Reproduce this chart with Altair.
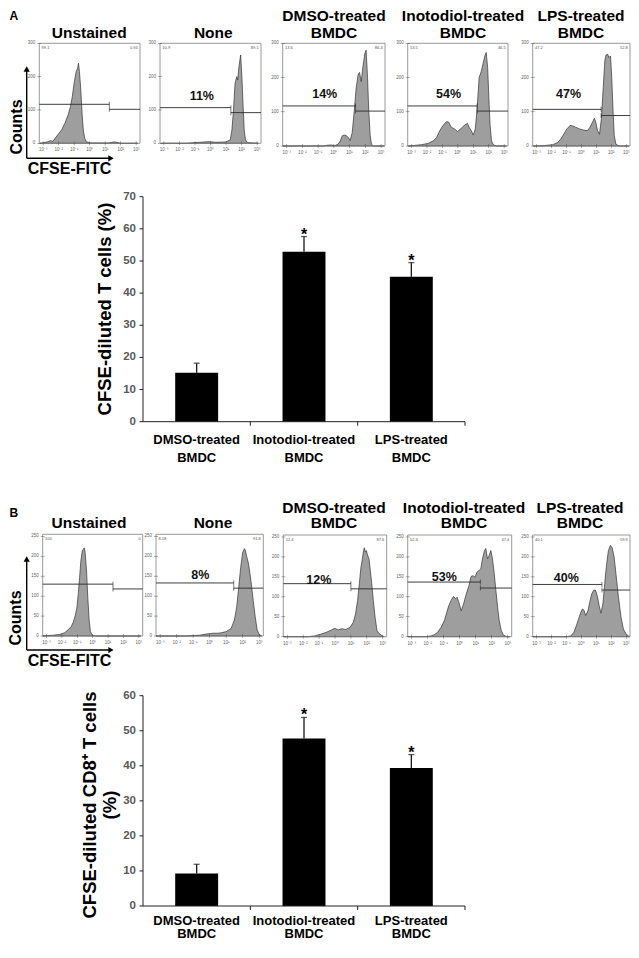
import altair as alt
import pandas as pd

# ---------------- data ----------------
CATS = ["DMSO-treated", "Inotodiol-treated", "LPS-treated"]
CAT_LINE2 = ["BMDC", "BMDC", "BMDC"]
A_MEAN = [15.2, 52.9, 45.1]
A_UPPER = [18.2, 57.6, 49.5]
B_MEAN = [9.3, 47.8, 39.4]
B_UPPER = [11.9, 53.8, 43.2]
A_YTICKS = [0, 10, 20, 30, 40, 50, 60, 70]
B_YTICKS = [0, 10, 20, 30, 40, 50, 60]

PANEL_TITLES = [["", "Unstained"], ["", "None"], ["DMSO-treated", "BMDC"],
                ["Inotodiol-treated", "BMDC"], ["LPS-treated", "BMDC"]]
DECADES = [-3, -2, -1, 0, 1, 2, 3]
DECADE_LABELS = ["10⁻³", "10⁻²", "10⁻¹", "10⁰", "10¹", "10²", "10³"]
HA_YTICKS = [0, 100, 200, 300]
HB_YTICKS = [0, 50, 100, 150, 200, 250]

# histogram outlines: x in log10(CFSE-FITC), c = counts
A1_X = [-3.21, -2.96, -2.75, -2.54, -2.37, -2.23, -2.02, -1.81, -1.60, -1.39, -1.24, -1.12, -0.99, -0.87,
        -0.78, -0.72, -0.66, -0.57, -0.49, -0.41, -0.32, -0.20, 0.08, 1.23, 1.54, 1.75, 1.96, 3.1]
A1_C = [0, 2, 4, 8, 6, 15, 28, 40, 60, 85, 110, 140, 185, 215, 225, 240, 215, 160, 90, 40, 15, 4, 1, 1, 4, 3, 0, 0]
A2_X = [-3.17, -1.54, -0.71, -0.08, 0.33, 0.96, 1.27, 1.38, 1.48, 1.58, 1.69, 1.75, 1.83, 1.94, 2.02,
        2.10, 2.17, 2.25, 2.38, 3.08]
A2_C = [0, 0, 3, 5, 3, 4, 10, 40, 100, 180, 200, 190, 230, 265, 200, 110, 40, 10, 2, 0]
A3_X = [-3.25, -0.68, -0.47, -0.16, 0.05, 0.26, 0.41, 0.54, 0.66, 0.79, 0.92, 1.04, 1.17, 1.29, 1.42,
        1.55, 1.63, 1.74, 1.84, 1.97, 2.05, 2.14, 2.22, 2.31, 2.39, 2.52, 3.21]
A3_C = [0, 0, 2, 3, 1, 5, 15, 30, 32, 30, 25, 16, 40, 100, 170, 210, 215, 188, 230, 270, 280, 200, 100, 30, 5, 0, 0]
A4_X = [-3.21, -2.75, -2.33, -1.91, -1.59, -1.38, -1.17, -0.96, -0.75, -0.60, -0.43, -0.22, -0.01, 0.16,
        0.31, 0.45, 0.62, 0.73, 0.87, 1.0, 1.13, 1.25, 1.38, 1.51, 1.63, 1.76, 1.84, 1.93, 2.01, 2.09,
        2.18, 2.31, 2.52, 3.15]
A4_C = [0, 2, 4, 8, 15, 25, 45, 60, 71, 70, 55, 50, 42, 50, 55, 62, 66, 55, 45, 32, 50, 110, 200, 217,
        240, 265, 273, 230, 140, 60, 15, 3, 0, 0]
A5_X = [-3.21, -2.54, -1.91, -1.59, -1.38, -1.17, -0.96, -0.75, -0.60, -0.39, -0.12, 0.2, 0.41, 0.58,
        0.75, 0.87, 0.96, 1.08, 1.21, 1.34, 1.46, 1.57, 1.65, 1.76, 1.84, 1.95, 2.03, 2.12, 2.20, 2.31,
        2.52, 3.2]
A5_C = [0, 1, 4, 10, 20, 35, 50, 60, 59, 55, 50, 46, 45, 55, 70, 81, 70, 45, 34, 80, 170, 250, 266, 268,
        258, 263, 200, 100, 30, 5, 0, 0]
B1_X = [-3.25, -2.57, -2.15, -1.83, -1.62, -1.40, -1.26, -1.13, -1.02, -0.94, -0.85, -0.77, -0.68, -0.62,
        -0.55, -0.49, -0.40, -0.32, -0.23, -0.15, -0.02, 0.19, 3.13]
B1_C = [0, 2, 4, 8, 15, 23, 35, 52, 73, 106, 147, 188, 213, 217, 221, 209, 163, 97, 40, 11, 2, 0, 0]
B2_X = [-3.25, -1.41, -0.61, -0.21, 0.20, 0.50, 0.70, 1.0, 1.30, 1.50, 1.64, 1.76, 1.88, 2.0, 2.10, 2.16,
        2.24, 2.36, 2.50, 2.64, 2.76, 2.88, 3.0, 3.16]
B2_C = [0, 0, 2, 5, 7, 7, 8, 11, 19, 40, 73, 122, 172, 209, 219, 215, 200, 180, 139, 89, 48, 15, 4, 0]
B3_X = [-3.25, -1.69, -1.27, -0.85, -0.54, -0.22, -0.01, 0.2, 0.45, 0.66, 0.94, 1.15, 1.29, 1.42, 1.53,
        1.63, 1.72, 1.78, 1.84, 1.91, 1.97, 2.05, 2.14, 2.22, 2.31, 2.41, 2.52, 2.64, 2.77, 2.94, 3.1]
B3_C = [0, 0, 2, 7, 11, 17, 21, 17, 20, 18, 23, 36, 57, 91, 133, 174, 195, 212, 223, 212, 216, 204, 195,
        166, 133, 91, 49, 15, 8, 3, 0]
B4_X = [-3.25, -2.12, -1.8, -1.59, -1.38, -1.17, -0.96, -0.81, -0.68, -0.54, -0.39, -0.26, -0.16, -0.05,
        0.09, 0.24, 0.41, 0.58, 0.71, 0.83, 0.96, 1.08, 1.21, 1.32, 1.42, 1.55, 1.63, 1.74, 1.84, 1.95,
        2.05, 2.16, 2.26, 2.37, 2.47, 2.6, 2.73, 2.94, 3.15]
B4_C = [0, 0, 2, 5, 11, 23, 40, 61, 78, 91, 101, 95, 99, 86, 65, 82, 107, 128, 151, 153, 149, 162, 166,
        170, 195, 216, 221, 195, 204, 216, 195, 158, 116, 74, 40, 15, 4, 0, 0]
B5_X = [-3.25, -1.02, -0.71, -0.5, -0.33, -0.19, -0.04, 0.08, 0.19, 0.29, 0.44, 0.56, 0.69, 0.81, 0.94,
        1.06, 1.19, 1.31, 1.44, 1.56, 1.69, 1.81, 1.94, 2.06, 2.19, 2.31, 2.48, 2.65, 2.81, 2.98, 3.15, 3.25]
B5_C = [0, 0, 2, 11, 28, 44, 61, 70, 65, 53, 65, 86, 107, 116, 117, 103, 78, 59, 82, 133, 183, 216, 229,
        223, 200, 158, 99, 49, 19, 7, 2, 0]

A_HX = [A1_X, A2_X, A3_X, A4_X, A5_X]
A_HC = [A1_C, A2_C, A3_C, A4_C, A5_C]
B_HX = [B1_X, B2_X, B3_X, B4_X, B5_X]
B_HC = [B1_C, B2_C, B3_C, B4_C, B5_C]

# gates: split point, left-gate level, right-gate level
A_SPLIT = [1.27, 1.31, 1.38, 1.25, 1.32]
A_GL = [117, 107, 117, 117, 107]
A_GR = [102, 92, 102, 102, 89]
B_SPLIT = [1.32, 1.46, 1.0, 1.29, 1.375]
B_GL = [130, 133, 133, 137, 131]
B_GR = [118, 120, 120, 122, 117]
A_PCT = ["", "11%", "14%", "54%", "47%"]
A_PCT_X = [0, -0.56, -0.58, -0.6, -0.85]
A_PCT_Y = [0, 143, 152, 152, 152]
B_PCT = ["", "8%", "12%", "53%", "40%"]
B_PCT_X = [0, -0.57, -1.02, -0.96, -1.0]
B_PCT_Y = [0, 152, 143, 149, 146]
A_CORNERS = [["99.1", "0.94"], ["10.9", "89.1"], ["13.6", "86.4"], ["53.5", "46.5"], ["47.2", "52.8"]]
B_CORNERS = [["100", "0"], ["8.18", "91.8"], ["12.4", "87.6"], ["52.6", "47.4"], ["40.1", "59.9"]]

# ---------------- layout (page pixels) ----------------
M = 8


def P(v):
    return v - M


FONT = "Liberation Sans, Arial, Helvetica, sans-serif"
XDOM = [-3.25, 3.25]
A_BOXES = [(39.3, 140, 43.3, 143.3), (160, 261, 43.3, 143.3), (282.7, 385, 43.3, 146),
           (407.7, 508, 43.3, 146), (532.7, 630, 43.3, 146)]
B_BOXES = [(42.7, 142.7, 534.3, 636), (156, 263.3, 534.3, 636), (283.3, 386.7, 535, 636.7),
           (407.7, 511.7, 535, 636.7), (532.7, 630, 535, 636.7)]
A_TITLE_X = [89.2, 213.3, 334, 463, 581]
B_TITLE_X = [89, 213, 334, 464, 580]

layers = []


def one(**kw):
    return pd.DataFrame([kw])


def hist(box, ymax, yticks, xs, cs, split, gl, gr, pct, pctx, pcty, corners):
    L, R, T, B = box
    sx = alt.Scale(domain=XDOM, range=[P(L), P(R)], nice=False, zero=False)
    sy = alt.Scale(domain=[0, ymax], range=[P(B), P(T)], nice=False, zero=False)

    def X(f):
        return alt.X(f, type="quantitative", scale=sx, axis=None)

    def Y(f):
        return alt.Y(f, type="quantitative", scale=sy, axis=None)

    out = []
    out.append(alt.Chart(pd.DataFrame({"x": xs, "c": cs})).mark_area(
        fill="#9e9e9e", stroke="#333333", strokeWidth=0.7).encode(x=X("x"), y=Y("c")))
    out.append(alt.Chart(one(x0=XDOM[0], x1=XDOM[1], y0=0, y1=ymax)).mark_rect(
        fillOpacity=0, stroke="#808080", strokeWidth=0.8).encode(x=X("x0"), x2="x1", y=Y("y0"), y2="y1"))
    xt = pd.DataFrame({"x": DECADES, "y": [0] * len(DECADES), "lab": DECADE_LABELS})
    out.append(alt.Chart(xt).mark_tick(orient="vertical", size=4, thickness=0.6, color="#444").encode(
        x=X("x"), y=Y("y")))
    out.append(alt.Chart(xt).mark_text(fontSize=4.5, dy=4, baseline="top", color="#666", font=FONT).encode(
        x=X("x"), y=Y("y"), text="lab:N"))
    yt = pd.DataFrame({"x": [XDOM[0]] * len(yticks), "y": yticks, "lab": [str(v) for v in yticks]})
    out.append(alt.Chart(yt).mark_tick(orient="horizontal", size=4, thickness=0.6, color="#444").encode(
        x=X("x"), y=Y("y")))
    out.append(alt.Chart(yt).mark_text(fontSize=4.5, dx=-4, align="right", baseline="middle", color="#666",
                                       font=FONT).encode(x=X("x"), y=Y("y"), text="lab:N"))
    g = pd.DataFrame({"a": [XDOM[0], split], "b": [split, XDOM[1]], "y": [gl, gr]})
    out.append(alt.Chart(g).mark_rule(color="#2a2a2a", strokeWidth=0.9).encode(x=X("a"), x2="b", y=Y("y")))
    cap = pd.DataFrame({"x": [split, split], "y": [gl, gr]})
    out.append(alt.Chart(cap).mark_tick(orient="vertical", size=5, thickness=0.9, color="#2a2a2a").encode(
        x=X("x"), y=Y("y")))
    if pct:
        out.append(alt.Chart(one(x=pctx, y=pcty, t=pct)).mark_text(
            fontSize=12.5, fontWeight="bold", font=FONT, color="#111", baseline="middle").encode(
            x=X("x"), y=Y("y"), text="t:N"))
    cl = one(x=XDOM[0] + 0.15, y=ymax * 0.955, t=corners[0])
    cr = one(x=XDOM[1] - 0.15, y=ymax * 0.955, t=corners[1])
    out.append(alt.Chart(cl).mark_text(fontSize=4, align="left", baseline="middle", color="#555",
                                       font=FONT).encode(x=X("x"), y=Y("y"), text="t:N"))
    out.append(alt.Chart(cr).mark_text(fontSize=4, align="right", baseline="middle", color="#555",
                                       font=FONT).encode(x=X("x"), y=Y("y"), text="t:N"))
    return out


def label(text, x, y, size=15.5, angle=0, align="center", baseline="middle", font=FONT):
    kw = dict(fontSize=size, fontWeight="bold", font=font, color="black", align=align, baseline=baseline)
    if angle:
        kw["angle"] = angle
    return alt.Chart(one(t=text)).mark_text(**kw).encode(x=alt.value(P(x)), y=alt.value(P(y)), text="t:N")


def row_titles(xs, y1, y2):
    out = []
    for (l1, l2), x in zip(PANEL_TITLES, xs):
        if l1:
            out.append(label(l1, x, y1))
        out.append(label(l2, x, y2))
    return out


def arrows(vx, vtop, hy, hright, counts_xy, fitc_xy):
    out = []
    d = one(k=1)
    out.append(alt.Chart(d).mark_rule(color="black", strokeWidth=1.4).encode(
        x=alt.value(P(vx)), y=alt.value(P(vtop + 4)), y2=alt.value(P(hy))))
    out.append(alt.Chart(d).mark_rule(color="black", strokeWidth=1.4).encode(
        x=alt.value(P(vx)), x2=alt.value(P(hright - 4)), y=alt.value(P(hy))))
    out.append(alt.Chart(d).mark_point(shape="triangle-up", filled=True, size=38, color="black", opacity=1).encode(
        x=alt.value(P(vx)), y=alt.value(P(vtop + 4))))
    out.append(alt.Chart(d).mark_point(shape="triangle-right", filled=True, size=38, color="black", opacity=1).encode(
        x=alt.value(P(hright - 4)), y=alt.value(P(hy))))
    out.append(label("Counts", counts_xy[0], counts_xy[1], size=16, angle=270))
    out.append(label("CFSE-FITC", fitc_xy[0], fitc_xy[1], size=16))
    return out


def bars(mean, upper, ymax, yticks, y0p, y1p, lab1y, lab2y):
    sx = alt.Scale(domain=CATS, range=[P(143), P(465)], paddingInner=0.6, paddingOuter=0.3)
    # same categories, bands without padding: their right edges are the tick positions
    sx_step = alt.Scale(domain=CATS, range=[P(143), P(465)], paddingInner=0, paddingOuter=0)
    sy = alt.Scale(domain=[0, ymax], range=[P(y0p), P(y1p)], nice=False, zero=False)
    X = alt.X("cat:N", scale=sx, axis=None, sort=CATS)

    def Y(f):
        return alt.Y(f, type="quantitative", scale=sy, axis=None)

    df = pd.DataFrame({"cat": CATS, "m": mean, "u": upper, "l2": CAT_LINE2, "z": [0] * 3})
    out = []
    out.append(alt.Chart(df).mark_bar(color="black").encode(x=X, y=Y("m")))
    out.append(alt.Chart(df).mark_rule(color="#1a1a1a", strokeWidth=1.3).encode(x=X, y=Y("m"), y2="u"))
    out.append(alt.Chart(df).mark_tick(orient="horizontal", size=6, thickness=1.3, color="#1a1a1a").encode(
        x=X, y=Y("u")))
    out.append(alt.Chart(df).mark_text(text="*", fontSize=16, fontWeight="bold", font=FONT, dy=3,
                                       baseline="alphabetic", color="black").encode(
        x=X, y=Y("u"), opacity=alt.condition("datum.cat == 'DMSO-treated'", alt.value(0), alt.value(1))))
    out.append(alt.Chart(df).mark_text(fontSize=13, fontWeight="bold", font=FONT, color="black",
                                       baseline="middle").encode(x=X, y=alt.value(P(lab1y)), text="cat:N"))
    out.append(alt.Chart(df).mark_text(fontSize=13, fontWeight="bold", font=FONT, color="black",
                                       baseline="middle").encode(x=X, y=alt.value(P(lab2y)), text="l2:N"))
    # axes
    ax = one(y0=0, y1=ymax)
    out.append(alt.Chart(ax).mark_rule(color="#222", strokeWidth=1).encode(
        x=alt.value(P(143)), y=Y("y0"), y2="y1"))
    out.append(alt.Chart(ax).mark_rule(color="#222", strokeWidth=1).encode(
        x=alt.value(P(143)), x2=alt.value(P(465)), y=Y("y0")))
    out.append(alt.Chart(df).mark_rule(color="#222", strokeWidth=1).encode(
        x=alt.X("cat:N", scale=sx_step, axis=None, sort=CATS, bandPosition=1), y=Y("z"),
        y2=alt.value(P(y0p) + 4)))
    yt = pd.DataFrame({"t": yticks, "lab": [str(v) for v in yticks]})
    out.append(alt.Chart(yt).mark_rule(color="#222", strokeWidth=1).encode(
        x=alt.value(P(139.5)), x2=alt.value(P(143)), y=Y("t")))
    out.append(alt.Chart(yt).mark_text(align="right", baseline="middle", font=FONT, fontWeight="bold",
                                       fontSize=11.5, color="#595959").encode(
        x=alt.value(P(136)), y=Y("t"), text="lab:N"))
    return out


# ---- panel A ----
layers.append(label("A", 9.5, 11, size=12, align="left", baseline="top"))
layers += row_titles(A_TITLE_X, 16, 32.5)
for i in range(5):
    layers += hist(A_BOXES[i], 300, HA_YTICKS, A_HX[i], A_HC[i], A_SPLIT[i], A_GL[i], A_GR[i],
                   A_PCT[i], A_PCT_X[i], A_PCT_Y[i], A_CORNERS[i])
layers += arrows(26.7, 65, 158.3, 115, (16.5, 127), (69.5, 169))
layers += bars(A_MEAN, A_UPPER, 70, A_YTICKS, 421.7, 196.7, 439.5, 457.5)
layers.append(label("CFSE-diluted T cells (%)", 105, 309, size=18.5, angle=270))

# ---- panel B ----
layers.append(label("B", 9.5, 508, size=12, align="left", baseline="top"))
layers += row_titles(B_TITLE_X, 507.5, 523)
for i in range(5):
    layers += hist(B_BOXES[i], 255, HB_YTICKS, B_HX[i], B_HC[i], B_SPLIT[i], B_GL[i], B_GR[i],
                   B_PCT[i], B_PCT_X[i], B_PCT_Y[i], B_CORNERS[i])
layers += arrows(26.7, 555, 650, 115, (16, 618), (69.5, 661))
layers += bars(B_MEAN, B_UPPER, 60, B_YTICKS, 906, 695.7, 920.5, 934)
layers.append(label("CFSE-diluted CD8⁺ T cells", 90, 805, size=18.5, angle=270))
layers.append(label("(%)", 110, 805, size=18.5, angle=270))

chart = alt.layer(*layers).resolve_scale(x="independent", y="independent").properties(
    width=623, height=934, autosize=alt.AutoSizeParams(type="none"), padding=0
).configure_view(stroke=None)

chart.save("out.html", embed_options={"renderer": "svg", "actions": False})
